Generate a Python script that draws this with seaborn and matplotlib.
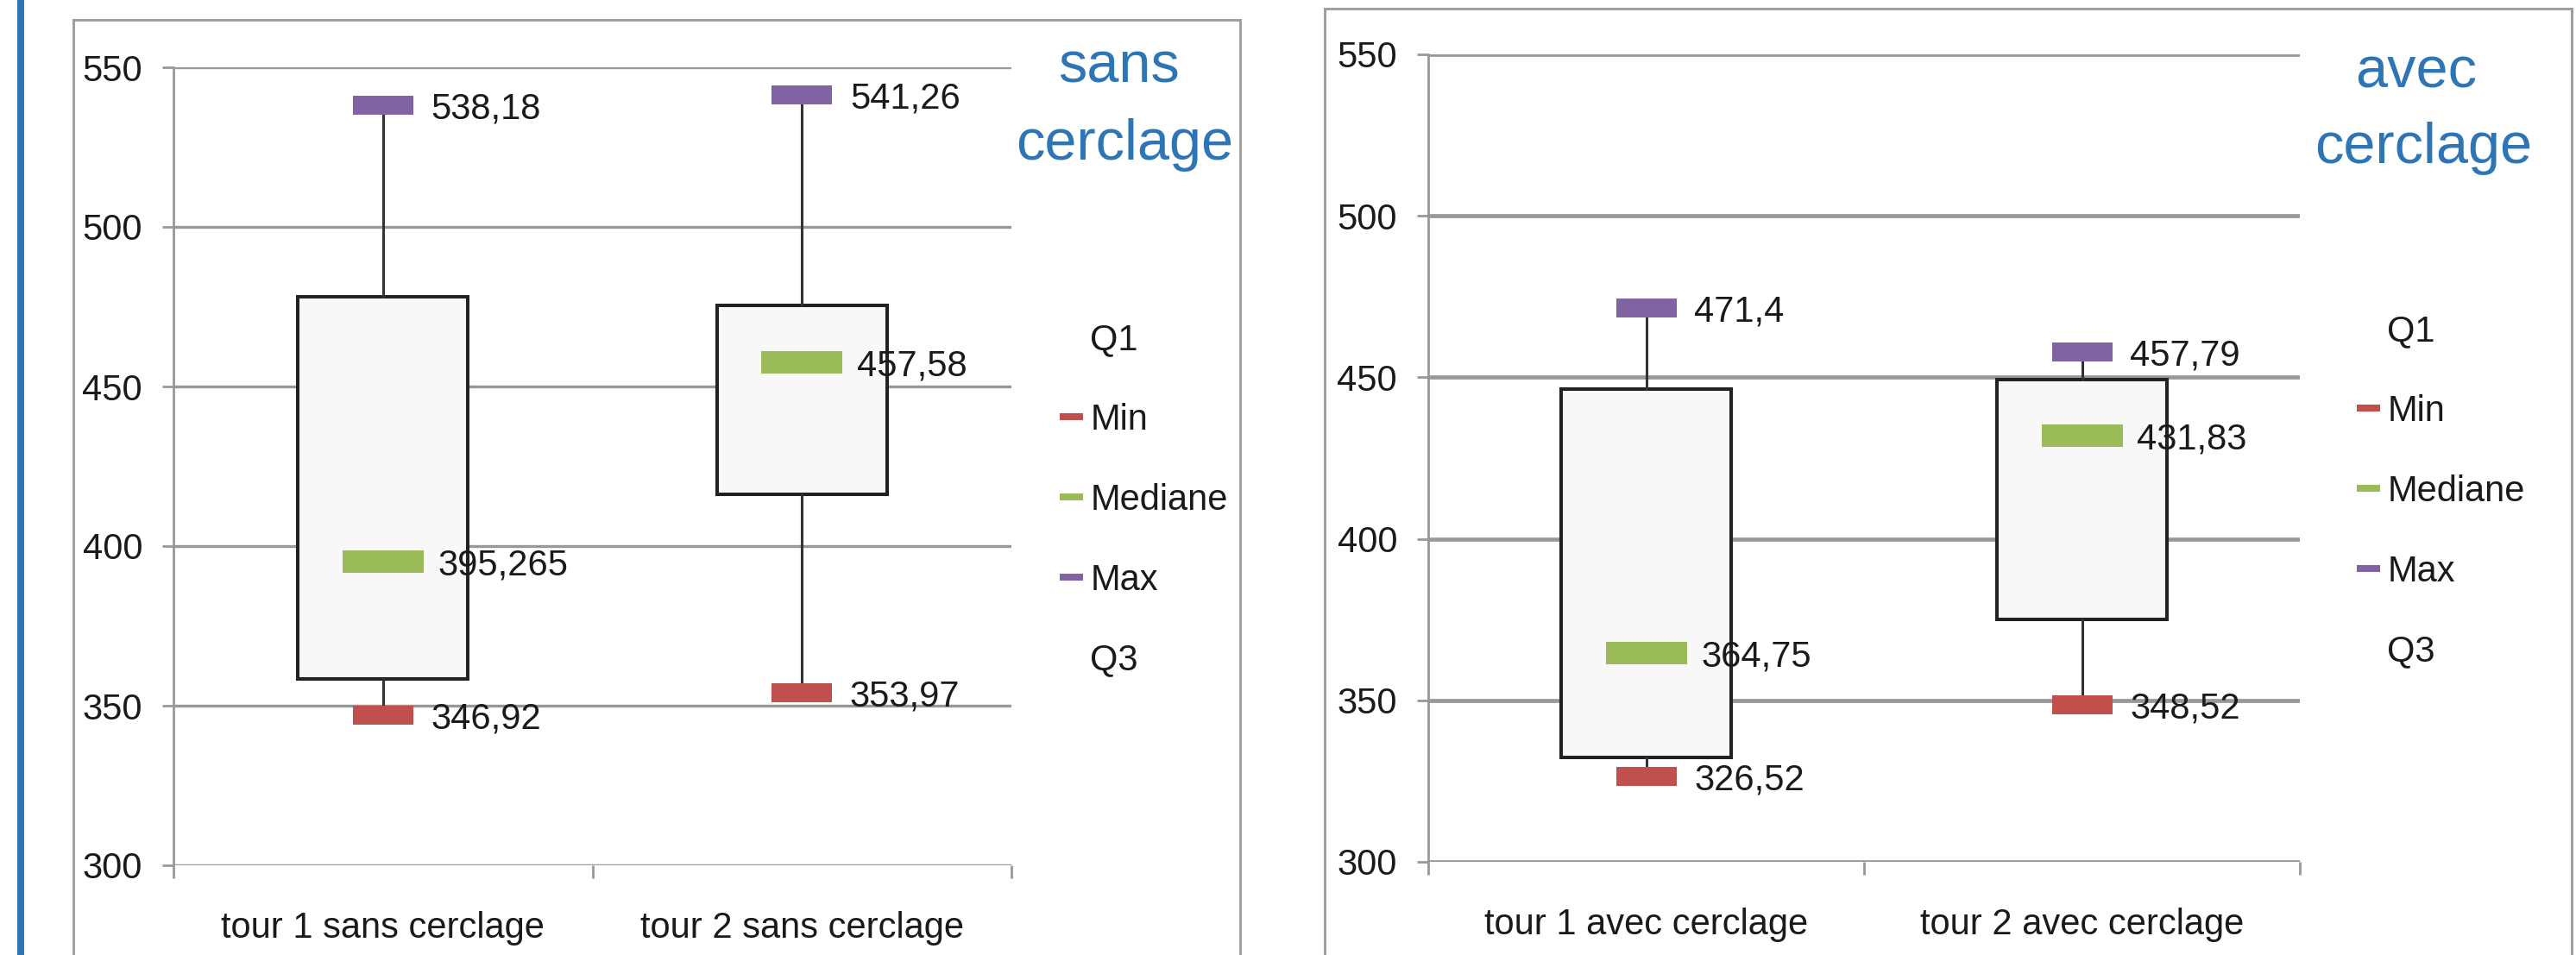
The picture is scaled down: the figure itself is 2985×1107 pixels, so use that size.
import pandas as pd
import matplotlib
matplotlib.use('Agg')
import matplotlib.pyplot as plt
from matplotlib import font_manager
from matplotlib.lines import Line2D
from matplotlib.patches import Rectangle
from matplotlib.path import Path
from matplotlib.markers import MarkerStyle
import seaborn as sns

# Donnees
categories_sans = ['tour 1 sans cerclage', 'tour 2 sans cerclage']
min_sans = [346.92, 353.97]
q1_sans = [358.4, 416.2]
median_sans = [395.265, 457.58]
q3_sans = [478.1, 475.4]
max_sans = [538.18, 541.26]

categories_avec = ['tour 1 avec cerclage', 'tour 2 avec cerclage']
min_avec = [326.52, 348.52]
q1_avec = [332.3, 375.1]
median_avec = [364.75, 431.83]
q3_avec = [446.4, 449.3]
max_avec = [471.4, 457.79]

legend_labels = ['Q1', 'Min', 'Mediane', 'Max', 'Q3']
yticks = [300, 350, 400, 450, 500, 550]

# Couleurs
RED = '#C0504D'
GREEN = '#9BBB59'
PURPLE = '#8064A2'
BLUE = '#2E75B6'
GRID = '#989898'
TXT = '#1A1A1A'

sns.set_theme(style='white')
names = {f.name for f in font_manager.fontManager.ttflist}
FONT = next((n for n in ['Liberation Sans Narrow', 'Liberation Sans', 'Roboto'] if n in names), 'DejaVu Sans')
plt.rcParams['font.family'] = [FONT, 'DejaVu Sans']

W, H = 2985, 1107
fig = plt.figure(figsize=(W / 100, H / 100), dpi=100)
fig.patch.set_facecolor('white')


def rect_marker(ratio):
    verts = [(-1, -ratio), (1, -ratio), (1, ratio), (-1, ratio), (-1, -ratio)]
    codes = [Path.MOVETO, Path.LINETO, Path.LINETO, Path.LINETO, Path.CLOSEPOLY]
    return MarkerStyle(Path(verts, codes))


def fx(px):
    return px / W


def fy(py):
    return 1 - py / H


def draw_panel(ax, cats, mins, q1s, meds, q3s, maxs, box_width, grid_lw):
    pos = list(range(len(cats)))
    stats = [dict(med=m, q1=a, q3=b, whislo=lo, whishi=hi)
             for m, a, b, lo, hi in zip(meds, q1s, q3s, mins, maxs)]
    ax.bxp(stats, positions=pos, widths=box_width, patch_artist=True,
           showcaps=False, showfliers=False, manage_ticks=False,
           boxprops=dict(facecolor='#F8F8F8', edgecolor='#222222', linewidth=2.9),
           whiskerprops=dict(color='#333333', linewidth=2.2),
           medianprops=dict(linewidth=0))

    df = pd.DataFrame({
        'pos': pos * 3,
        'value': mins + meds + maxs,
        'stat': ['Min'] * len(pos) + ['Mediane'] * len(pos) + ['Max'] * len(pos),
    })
    styles = {
        'Min': (RED, rect_marker(0.31), 2540, 40),
        'Mediane': (GREEN, rect_marker(0.29), 4490, 46),
        'Max': (PURPLE, rect_marker(0.31), 2540, 40),
    }
    for stat, (color, marker, size, off) in styles.items():
        sub = df[df['stat'] == stat]
        sns.scatterplot(data=sub, x='pos', y='value', color=color, marker=marker,
                        s=size, linewidth=0, ax=ax, legend=False, zorder=5)
        for _, r in sub.iterrows():
            ax.annotate(str(r['value']).replace('.', ','), (r['pos'], r['value']),
                        xytext=(off, 0), textcoords='offset points',
                        ha='left', va='center_baseline', fontsize=30, color=TXT, zorder=6)

    ax.set_xlim(-0.5, len(cats) - 0.5)
    ax.set_ylim(300, 550)
    ax.set_yticks(yticks)
    ax.set_yticklabels([str(v) for v in yticks])
    ax.set_xticks([p - 0.5 for p in pos] + [len(cats) - 0.5])
    ax.set_xticklabels([])
    ax.set_xticks(pos, minor=True)
    ax.set_xticklabels(cats, minor=True)
    ax.set_xlabel('')
    ax.set_ylabel('')
    ax.set_axisbelow(True)
    ax.yaxis.grid(True, color=GRID, linewidth=grid_lw)
    ax.xaxis.grid(False)
    for s in ['top', 'right', 'bottom']:
        ax.spines[s].set_visible(False)
    ax.spines['left'].set_color(GRID)
    ax.spines['left'].set_linewidth(2.0)
    ax.tick_params(axis='y', which='major', left=True, length=9.4, width=2.0,
                   color=GRID, pad=16.5, labelsize=30, labelcolor=TXT)
    ax.tick_params(axis='x', which='major', bottom=True, length=11, width=2.0,
                   color=GRID, direction='out')
    ax.tick_params(axis='x', which='minor', bottom=True, length=0, pad=38,
                   labelsize=30, labelcolor=TXT)
    ax.set_facecolor('white')


def draw_legend(ax, x_px, y_px):
    handles = [Line2D([], [], color=c, lw=5.8, solid_capstyle='butt')
               for c in ['none', RED, GREEN, PURPLE, 'none']]
    ax.legend(handles, legend_labels, loc='upper left',
              bbox_to_anchor=(fx(x_px), fy(y_px)), bbox_transform=fig.transFigure,
              frameon=False, fontsize=30, handlelength=0.65, handletextpad=0.2,
              labelspacing=1.27, borderaxespad=0, borderpad=0,
              labelcolor=TXT)


# Cadres et trait bleu
fig.add_artist(Line2D([fx(24), fx(24)], [0, 1], color=BLUE, lw=5.8,
                      transform=fig.transFigure))
fig.add_artist(Rectangle((fx(85), -0.1), fx(1437 - 85), 0.1 + 1 - 23 / H,
                         transform=fig.transFigure, fill=False,
                         edgecolor='#A0A0A0', lw=2.2))
fig.add_artist(Rectangle((fx(1535), -0.1), fx(2980 - 1535), 0.1 + 1 - 10 / H,
                         transform=fig.transFigure, fill=False,
                         edgecolor='#A0A0A0', lw=2.2))

# Panneau gauche : sans cerclage
ax1 = fig.add_axes([fx(201), fy(1003), fx(1172 - 201), (1003 - 78) / H])
draw_panel(ax1, categories_sans, min_sans, q1_sans, median_sans, q3_sans, max_sans, 0.405, 2.4)
draw_legend(ax1, 1228, 374)
fig.text(fx(1297), fy(78), 'sans', ha='center', va='center', fontsize=48, color=BLUE)
fig.text(fx(1303), fy(168), 'cerclage', ha='center', va='center', fontsize=48, color=BLUE)

# Panneau droit : avec cerclage
ax2 = fig.add_axes([fx(1655), fy(999), fx(2665 - 1655), (999 - 63) / H])
draw_panel(ax2, categories_avec, min_avec, q1_avec, median_avec, q3_avec, max_avec, 0.39, 3.4)
draw_legend(ax2, 2731, 364)
fig.text(fx(2800), fy(84), 'avec', ha='center', va='center', fontsize=48, color=BLUE)
fig.text(fx(2808), fy(172), 'cerclage', ha='center', va='center', fontsize=48, color=BLUE)

fig.savefig('out.png', dpi=100, facecolor='white')
